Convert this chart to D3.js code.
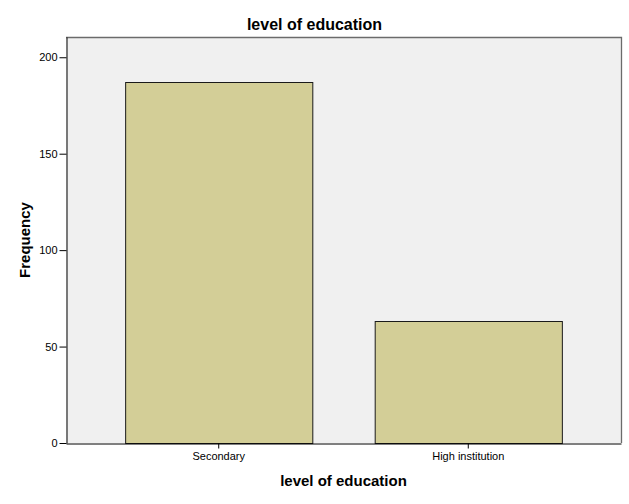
<!DOCTYPE html>
<html>
<head>
<meta charset="utf-8">
<script src="https://cdn.jsdelivr.net/npm/d3@7"></script>
<style>
  body { margin: 0; background: #fff; }
  text { font-family: "Liberation Sans", Arial, sans-serif; }
</style>
</head>
<body>
<script>
const categories = ["Secondary", "High institution"];
const frequencies = [187, 63];
const yTicks = [0, 50, 100, 150, 200];

const width = 629, height = 504;
const plotLeft = 66, plotRight = 621, plotTop = 37, plotBottom = 443;

const svg = d3.select("body").append("svg")
    .attr("width", width)
    .attr("height", height);

const x = d3.scaleBand()
    .domain(categories)
    .range([plotLeft, plotRight])
    .paddingInner(0.25)
    .paddingOuter(0.237);

const y = d3.scaleLinear()
    .domain([0, 210.5])
    .range([plotBottom, plotTop]);

// plot background
svg.append("rect")
    .attr("x", plotLeft).attr("y", plotTop)
    .attr("width", plotRight - plotLeft).attr("height", plotBottom - plotTop)
    .attr("fill", "#f0f0f0");

// top and right frame
svg.append("path")
    .attr("d", `M${plotLeft},${plotTop + 0.5}H${plotRight + 0.5}V${plotBottom}`)
    .attr("fill", "none")
    .attr("stroke", "#6b6b6b")
    .attr("stroke-width", 1.3);

// bars
svg.selectAll("rect.bar")
    .data(frequencies)
    .join("rect")
    .attr("class", "bar")
    .attr("x", (d, i) => x(categories[i]) + 0.5)
    .attr("y", d => Math.round(y(d)) + 0.5)
    .attr("width", x.bandwidth())
    .attr("height", d => plotBottom - Math.round(y(d)))
    .attr("fill", "#d3ce97")
    .attr("stroke", "#1a1a1a")
    .attr("stroke-width", 1);

// y axis
const yAxis = svg.append("g")
    .attr("transform", `translate(${plotLeft + 0.5},0)`)
    .call(d3.axisLeft(y).tickValues(yTicks).tickSize(7).tickPadding(2).tickSizeOuter(0));
yAxis.select(".domain").attr("stroke", "#000");
yAxis.selectAll("text").attr("font-size", 11).attr("fill", "#000")
    .style("font-family", "'Liberation Sans', Arial, sans-serif");

// x axis
const xAxis = svg.append("g")
    .attr("transform", `translate(0,${plotBottom + 0.5})`)
    .call(d3.axisBottom(x).tickSize(5).tickPadding(4).tickSizeOuter(0));
xAxis.select(".domain").attr("stroke", "#000");
xAxis.selectAll("text").attr("font-size", 11).attr("fill", "#000")
    .style("font-family", "'Liberation Sans', Arial, sans-serif");

// titles
svg.append("text")
    .attr("x", width / 2).attr("y", 30)
    .attr("text-anchor", "middle")
    .attr("font-size", 16).attr("font-weight", "bold")
    .text("level of education");

svg.append("text")
    .attr("x", (plotLeft + plotRight) / 2).attr("y", 486)
    .attr("text-anchor", "middle")
    .attr("font-size", 15).attr("font-weight", "bold")
    .text("level of education");

svg.append("text")
    .attr("transform", `translate(30,${(plotTop + plotBottom) / 2}) rotate(-90)`)
    .attr("text-anchor", "middle")
    .attr("font-size", 15).attr("font-weight", "bold")
    .text("Frequency");
</script>
</body>
</html>
